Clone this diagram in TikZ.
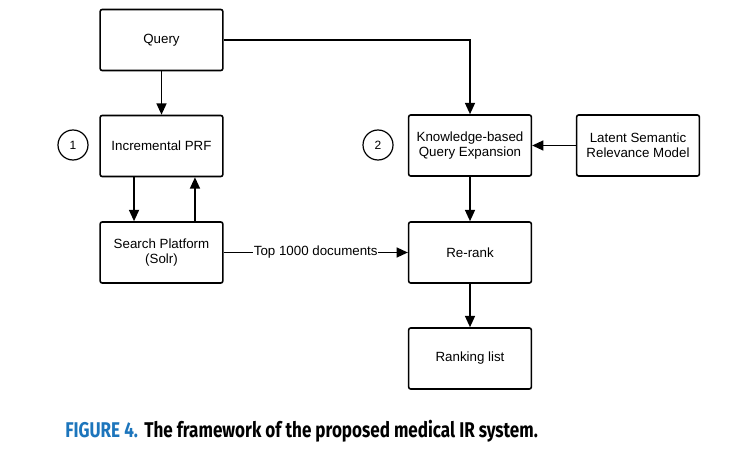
\documentclass[tikz,border=0pt]{standalone}
\usepackage{fontspec}
\setmainfont{Liberation Sans}
\newfontfamily\capfont{Fira Sans}
\usetikzlibrary{arrows.meta}
\definecolor{capblue}{RGB}{28,117,188}
\begin{document}
\begin{tikzpicture}[x=0.75pt, y=-0.75pt,
    box/.style={draw, line width=1.2pt, rounded corners=1.5pt, minimum width=92pt,
      minimum height=45.75pt, align=center, font=\fontsize{10}{11.5}\selectfont},
    num/.style={draw, circle, line width=0.9pt, minimum size=22.5pt, inner sep=0pt,
      font=\fontsize{9}{10}\selectfont},
    arr/.style={-{Triangle[length=8.5pt,width=7.5pt]}, line width=1.2pt}]
  \useasboundingbox (0,0) rectangle (752,463);
  \node[box] (query) at (161.5,40) {Query};
  \node[box] (prf) at (161.5,146) {Incremental PRF};
  \node[box] (solr) at (161.5,252.5) {Search Platform\\(Solr)};
  \node[box] (kqe) at (470,145.5) {Knowledge-based\\Query Expansion};
  \node[box] (lsrm) at (638,145.5) {Latent Semantic\\Relevance Model};
  \node[box] (rerank) at (470,252.5) {Re-rank};
  \node[box] (ranking) at (470,358.5) {Ranking list};
  \node[num] (one) at (73,145) {1};
  \node[num] (two) at (378,145) {2};
  \draw[arr] (query) -- (prf);
  \draw[arr] ([xshift=-20.6pt]prf.south) -- ([xshift=-20.6pt]solr.north);
  \draw[arr] ([xshift=25.1pt]solr.north) -- ([xshift=25.1pt]prf.south);
  \draw[arr] (query.east) -| (kqe.north);
  \draw[arr] (lsrm) -- (kqe);
  \draw[arr] (kqe) -- (rerank);
  \draw[arr] (rerank) -- (ranking);
  \draw[arr] (solr) -- node[fill=white, inner sep=0.6pt, font=\fontsize{10}{11.5}\selectfont]
    {Top 1000 documents} (rerank);
  \node[anchor=west, inner sep=0pt, font=\capfont\bfseries\fontsize{16}{18}\selectfont]
    (caption) at (65,431) {\scalebox{0.8}[1]{\textcolor{capblue}{FIGURE 4.}\hspace{6pt}The framework of the proposed medical IR system.}};
\end{tikzpicture}
\end{document}
